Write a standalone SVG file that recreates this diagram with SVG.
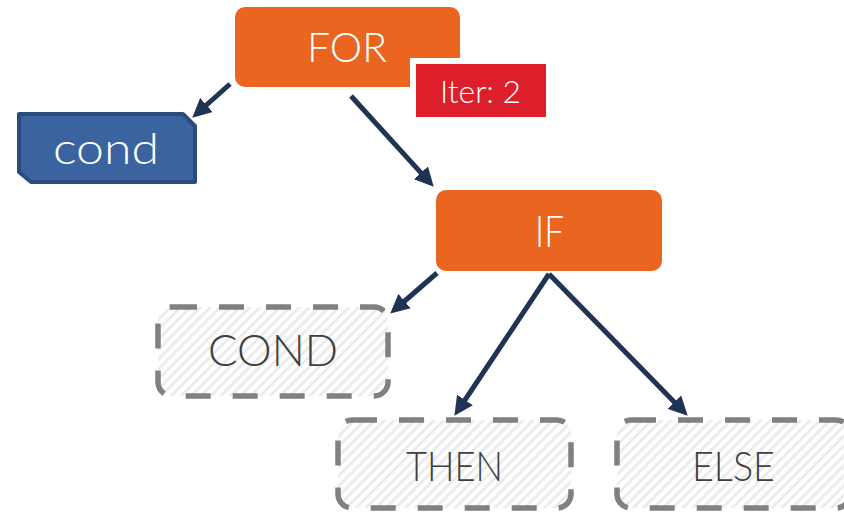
<svg xmlns="http://www.w3.org/2000/svg" width="844" height="512" viewBox="0 0 844 512">
  <defs>
    <pattern id="hatch" patternUnits="userSpaceOnUse" width="7" height="7" patternTransform="rotate(45)">
      <rect width="7" height="7" fill="#ffffff"/>
      <line x1="2" y1="0" x2="2" y2="7" stroke="#e9e9e9" stroke-width="2.6"/>
    </pattern>
    <marker id="head" markerUnits="userSpaceOnUse" markerWidth="19" markerHeight="19" refX="12" refY="9.5" orient="auto">
      <path d="M0,0 L19,9.5 L0,19 z" fill="#1f3354"/>
    </marker>
  </defs>
  <style>
    .lbl { font-family: "Lato", "Open Sans", "Liberation Sans", sans-serif; font-weight: 300; text-anchor: middle; }
    .white { fill: #ffffff; }
    .grey { fill: #404040; }
    .solid { fill: #ea651f; }
    .ghost { fill: url(#hatch); stroke: #808080; stroke-width: 5.5; stroke-dasharray: 25 22; }
    .edge { stroke: #1f3354; stroke-width: 5; fill: none; marker-end: url(#head); }
  </style>

  <rect width="844" height="512" fill="#ffffff"/>

  <g id="connectors">
    <line class="edge" x1="230" y1="84" x2="197.5" y2="113"/>
    <line class="edge" x1="351" y1="96" x2="429" y2="181.6"/>
    <line class="edge" x1="437" y1="273" x2="395.5" y2="309"/>
    <line class="edge" x1="549" y1="274" x2="458.3" y2="410"/>
    <line class="edge" x1="549" y1="274" x2="682.8" y2="410.7"/>
  </g>

  <g id="for">
    <rect class="solid" x="235" y="7" width="225" height="80" rx="10"/>
    <text class="lbl white" x="347" y="62" font-size="42" textLength="80" lengthAdjust="spacingAndGlyphs">FOR</text>
  </g>

  <g id="iter">
    <rect x="413" y="61" width="136" height="59" fill="#dc1f2a" stroke="#ffffff" stroke-width="6"/>
    <text class="lbl white" x="480.5" y="103" font-size="32" textLength="81" lengthAdjust="spacingAndGlyphs">Iter: 2</text>
  </g>

  <g id="cond">
    <path d="M19,114 L183,114 L195,126 L195,182 L31,182 L19,172 Z" fill="#3a639f" stroke="#2a4b7c" stroke-width="4" stroke-linejoin="round"/>
    <text class="lbl white" x="106" y="164" font-size="44" textLength="106" lengthAdjust="spacingAndGlyphs">cond</text>
  </g>

  <g id="if">
    <rect class="solid" x="436" y="190" width="226" height="81" rx="10"/>
    <text class="lbl white" x="549.5" y="247" font-size="44" textLength="29" lengthAdjust="spacingAndGlyphs">IF</text>
  </g>

  <g id="cond-slot">
    <rect class="ghost" x="158" y="307" width="230" height="89" rx="14"/>
    <text class="lbl grey" x="273" y="366" font-size="44" textLength="130" lengthAdjust="spacingAndGlyphs">COND</text>
  </g>

  <g id="then-slot">
    <rect class="ghost" x="338" y="420" width="233" height="88" rx="14"/>
    <text class="lbl grey" x="454.5" y="481" font-size="42" textLength="97" lengthAdjust="spacingAndGlyphs">THEN</text>
  </g>

  <g id="else-slot">
    <rect class="ghost" x="617" y="420" width="233" height="88" rx="14"/>
    <text class="lbl grey" x="733.5" y="481" font-size="42" textLength="83" lengthAdjust="spacingAndGlyphs">ELSE</text>
  </g>
</svg>
